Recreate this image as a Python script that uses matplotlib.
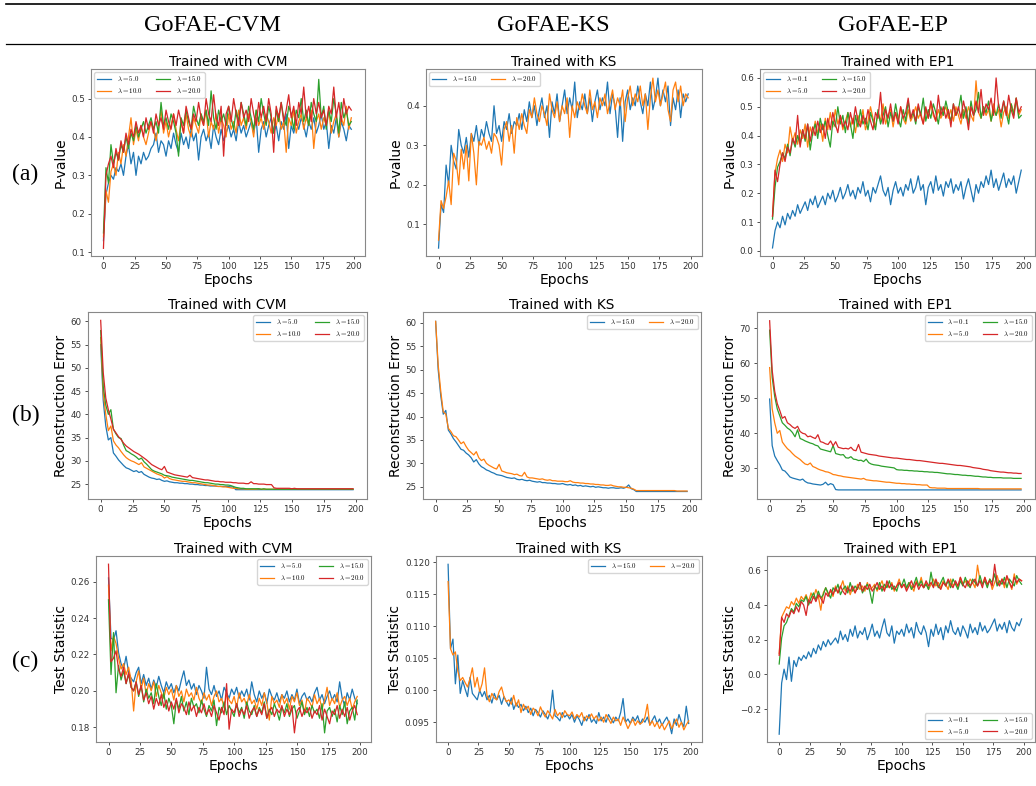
import numpy as np
import matplotlib
matplotlib.use('Agg')
import matplotlib.pyplot as plt
from matplotlib.lines import Line2D

W, H = 1036, 786
plt.rcParams['mathtext.fontset'] = 'cm'

BLUE, ORANGE, GREEN, RED = '#1f77b4', '#ff7f0e', '#2ca02c', '#d62728'

# every series is sampled every 2 epochs (0, 2, ..., 198)

# ---- row (a): P-value ----
cvm_pval_5 = [
    0.13, 0.25, 0.28, 0.30, 0.29, 0.32, 0.31, 0.33, 0.30, 0.35,
    0.38, 0.33, 0.36, 0.30, 0.35, 0.33, 0.36, 0.34, 0.35, 0.37,
    0.38, 0.41, 0.36, 0.39, 0.38, 0.35, 0.39, 0.37, 0.41, 0.38,
    0.36, 0.41, 0.38, 0.40, 0.37, 0.42, 0.39, 0.41, 0.34, 0.40,
    0.42, 0.39, 0.41, 0.37, 0.43, 0.40, 0.38, 0.42, 0.39, 0.41,
    0.43, 0.40, 0.42, 0.39, 0.44, 0.41, 0.43, 0.40, 0.42, 0.44,
    0.41, 0.45, 0.36, 0.42, 0.44, 0.40, 0.43, 0.45, 0.41, 0.43,
    0.39, 0.44, 0.42, 0.46, 0.37, 0.43, 0.41, 0.44, 0.42, 0.45,
    0.43, 0.40, 0.44, 0.42, 0.45, 0.41, 0.43, 0.46, 0.42, 0.44,
    0.37, 0.43, 0.41, 0.45, 0.40, 0.44, 0.42, 0.39, 0.43, 0.42]
cvm_pval_10 = [
    0.14, 0.26, 0.23, 0.31, 0.33, 0.30, 0.36, 0.33, 0.38, 0.35,
    0.40, 0.45, 0.38, 0.42, 0.39, 0.43, 0.40, 0.38, 0.41, 0.44,
    0.42, 0.39, 0.43, 0.47, 0.41, 0.44, 0.40, 0.43, 0.46, 0.42,
    0.39, 0.44, 0.41, 0.46, 0.42, 0.40, 0.45, 0.43, 0.41, 0.46,
    0.43, 0.47, 0.40, 0.44, 0.42, 0.46, 0.41, 0.45, 0.43, 0.40,
    0.46, 0.42, 0.44, 0.41, 0.47, 0.43, 0.45, 0.42, 0.46, 0.44,
    0.40, 0.47, 0.43, 0.45, 0.42, 0.46, 0.44, 0.41, 0.45, 0.43,
    0.46, 0.42, 0.44, 0.36, 0.45, 0.43, 0.47, 0.41, 0.44, 0.46,
    0.42, 0.45, 0.43, 0.47, 0.37, 0.44, 0.46, 0.42, 0.45, 0.43,
    0.47, 0.41, 0.44, 0.46, 0.40, 0.45, 0.43, 0.48, 0.42, 0.45]
cvm_pval_15 = [
    0.15, 0.32, 0.28, 0.38, 0.33, 0.36, 0.34, 0.38, 0.36, 0.40,
    0.37, 0.41, 0.39, 0.43, 0.40, 0.42, 0.44, 0.41, 0.43, 0.45,
    0.42, 0.44, 0.41, 0.49, 0.43, 0.45, 0.42, 0.46, 0.44, 0.41,
    0.35, 0.45, 0.43, 0.47, 0.44, 0.42, 0.48, 0.45, 0.43, 0.46,
    0.44, 0.47, 0.43, 0.52, 0.45, 0.42, 0.47, 0.44, 0.46, 0.43,
    0.48, 0.45, 0.42, 0.47, 0.44, 0.49, 0.46, 0.43, 0.48, 0.45,
    0.42, 0.47, 0.44, 0.50, 0.46, 0.43, 0.48, 0.45, 0.41, 0.47,
    0.44, 0.49, 0.45, 0.43, 0.48, 0.46, 0.42, 0.47, 0.45, 0.50,
    0.44, 0.47, 0.43, 0.49, 0.46, 0.44, 0.55, 0.45, 0.48, 0.42,
    0.47, 0.44, 0.50, 0.46, 0.41, 0.49, 0.45, 0.47, 0.43, 0.44]
cvm_pval_20 = [
    0.11, 0.30, 0.33, 0.35, 0.32, 0.37, 0.34, 0.39, 0.36, 0.41,
    0.38, 0.42, 0.40, 0.44, 0.41, 0.43, 0.40, 0.45, 0.42, 0.44,
    0.41, 0.46, 0.43, 0.45, 0.42, 0.47, 0.44, 0.42, 0.46, 0.43,
    0.47, 0.44, 0.41, 0.48, 0.45, 0.42, 0.46, 0.44, 0.49, 0.45,
    0.43, 0.50, 0.46, 0.44, 0.51, 0.45, 0.43, 0.48, 0.35, 0.46,
    0.48, 0.44, 0.50, 0.46, 0.43, 0.49, 0.45, 0.47, 0.44, 0.50,
    0.46, 0.43, 0.49, 0.45, 0.48, 0.44, 0.50, 0.46, 0.36, 0.48,
    0.45, 0.49, 0.44, 0.47, 0.51, 0.45, 0.48, 0.43, 0.49, 0.46,
    0.53, 0.45, 0.48, 0.44, 0.50, 0.46, 0.49, 0.45, 0.47, 0.43,
    0.48, 0.46, 0.53, 0.45, 0.49, 0.44, 0.50, 0.46, 0.48, 0.47]

ks_pval_15 = [
    0.04, 0.15, 0.13, 0.25, 0.20, 0.30, 0.26, 0.24, 0.34, 0.30,
    0.28, 0.32, 0.27, 0.33, 0.31, 0.35, 0.30, 0.34, 0.32, 0.36,
    0.33, 0.31, 0.40, 0.33, 0.35, 0.31, 0.36, 0.34, 0.38, 0.33,
    0.36, 0.35, 0.38, 0.34, 0.39, 0.36, 0.41, 0.37, 0.40, 0.35,
    0.39, 0.42, 0.37, 0.40, 0.32, 0.41, 0.38, 0.43, 0.36, 0.40,
    0.44, 0.38, 0.42, 0.39, 0.46, 0.37, 0.41, 0.39, 0.43, 0.38,
    0.42, 0.36, 0.41, 0.44, 0.39, 0.42, 0.40, 0.46, 0.38, 0.43,
    0.40, 0.32, 0.42, 0.31, 0.41, 0.44, 0.39, 0.42, 0.40, 0.45,
    0.41, 0.38, 0.43, 0.40, 0.46, 0.39, 0.42, 0.47, 0.40, 0.44,
    0.41, 0.45, 0.35, 0.42, 0.39, 0.44, 0.37, 0.43, 0.41, 0.43]
ks_pval_20 = [
    0.06, 0.16, 0.14, 0.17, 0.21, 0.15, 0.28, 0.26, 0.20, 0.29,
    0.24, 0.30, 0.21, 0.33, 0.28, 0.20, 0.31, 0.30, 0.32, 0.29,
    0.31, 0.28, 0.33, 0.32, 0.30, 0.25, 0.34, 0.36, 0.31, 0.35,
    0.28, 0.37, 0.34, 0.38, 0.35, 0.33, 0.39, 0.37, 0.42, 0.38,
    0.36, 0.40, 0.38, 0.35, 0.43, 0.39, 0.37, 0.41, 0.36, 0.40,
    0.38, 0.42, 0.32, 0.40, 0.37, 0.41, 0.39, 0.43, 0.40, 0.38,
    0.44, 0.39, 0.41, 0.37, 0.42, 0.40, 0.43, 0.38, 0.41, 0.44,
    0.39, 0.42, 0.40, 0.44, 0.36, 0.42, 0.45, 0.40, 0.43, 0.41,
    0.45, 0.40, 0.43, 0.34, 0.42, 0.47, 0.41, 0.44, 0.40, 0.43,
    0.46, 0.39, 0.36, 0.44, 0.46, 0.41, 0.45, 0.40, 0.43, 0.42]

ep_pval_01 = [
    0.01, 0.07, 0.10, 0.08, 0.12, 0.09, 0.13, 0.11, 0.14, 0.12,
    0.16, 0.13, 0.15, 0.17, 0.14, 0.18, 0.16, 0.19, 0.15, 0.17,
    0.19, 0.16, 0.20, 0.18, 0.21, 0.17, 0.19, 0.22, 0.18, 0.20,
    0.23, 0.19, 0.21, 0.18, 0.22, 0.20, 0.24, 0.19, 0.21, 0.17,
    0.22, 0.20, 0.23, 0.26, 0.21, 0.19, 0.22, 0.16, 0.21, 0.24,
    0.20, 0.22, 0.19, 0.23, 0.21, 0.25, 0.20, 0.22, 0.26, 0.21,
    0.23, 0.16, 0.22, 0.24, 0.20, 0.26, 0.21, 0.23, 0.19, 0.24,
    0.22, 0.25, 0.20, 0.23, 0.21, 0.24, 0.18, 0.22, 0.25, 0.21,
    0.17, 0.23, 0.20, 0.24, 0.22, 0.26, 0.23, 0.28, 0.22, 0.25,
    0.21, 0.24, 0.27, 0.22, 0.25, 0.23, 0.26, 0.20, 0.24, 0.28]
ep_pval_5 = [
    0.12, 0.27, 0.32, 0.35, 0.31, 0.37, 0.34, 0.43, 0.38, 0.41,
    0.37, 0.42, 0.39, 0.44, 0.36, 0.43, 0.40, 0.45, 0.41, 0.44,
    0.38, 0.46, 0.42, 0.48, 0.43, 0.49, 0.44, 0.47, 0.42, 0.45,
    0.48, 0.43, 0.46, 0.41, 0.47, 0.44, 0.49, 0.42, 0.45, 0.50,
    0.46, 0.43, 0.48, 0.45, 0.51, 0.44, 0.47, 0.49, 0.43, 0.48,
    0.45, 0.50, 0.46, 0.44, 0.49, 0.45, 0.47, 0.50, 0.46, 0.48,
    0.44, 0.49, 0.46, 0.51, 0.47, 0.45, 0.49, 0.46, 0.48, 0.50,
    0.46, 0.49, 0.45, 0.50, 0.47, 0.44, 0.49, 0.46, 0.50, 0.47,
    0.45, 0.59, 0.48, 0.46, 0.50, 0.47, 0.49, 0.45, 0.51, 0.47,
    0.49, 0.43, 0.48, 0.50, 0.46, 0.51, 0.48, 0.53, 0.47, 0.49]
ep_pval_15 = [
    0.11, 0.22, 0.29, 0.31, 0.34, 0.32, 0.37, 0.33, 0.39, 0.36,
    0.40, 0.37, 0.42, 0.38, 0.44, 0.35, 0.41, 0.44, 0.39, 0.46,
    0.42, 0.45, 0.40, 0.36, 0.45, 0.43, 0.50, 0.44, 0.47, 0.41,
    0.48, 0.44, 0.39, 0.47, 0.43, 0.49, 0.44, 0.46, 0.42, 0.48,
    0.45, 0.42, 0.49, 0.44, 0.47, 0.50, 0.43, 0.48, 0.45, 0.51,
    0.46, 0.43, 0.49, 0.45, 0.52, 0.46, 0.48, 0.44, 0.50, 0.47,
    0.53, 0.45, 0.49, 0.46, 0.51, 0.48, 0.44, 0.50, 0.47, 0.52,
    0.48, 0.45, 0.51, 0.47, 0.49, 0.54, 0.46, 0.50, 0.44, 0.52,
    0.47, 0.49, 0.55, 0.46, 0.50, 0.48, 0.52, 0.45, 0.49, 0.47,
    0.51, 0.46, 0.52, 0.48, 0.44, 0.51, 0.47, 0.53, 0.46, 0.47]
ep_pval_20 = [
    0.12, 0.28, 0.24, 0.30, 0.34, 0.31, 0.36, 0.34, 0.39, 0.37,
    0.47, 0.36, 0.42, 0.39, 0.44, 0.38, 0.43, 0.40, 0.45, 0.41,
    0.44, 0.39, 0.46, 0.42, 0.48, 0.44, 0.41, 0.47, 0.43, 0.45,
    0.42, 0.48, 0.44, 0.50, 0.45, 0.43, 0.47, 0.44, 0.49, 0.45,
    0.42, 0.48, 0.46, 0.55, 0.44, 0.49, 0.46, 0.51, 0.45, 0.48,
    0.44, 0.50, 0.46, 0.48, 0.53, 0.46, 0.49, 0.45, 0.51, 0.47,
    0.44, 0.50, 0.46, 0.52, 0.48, 0.45, 0.54, 0.47, 0.50, 0.46,
    0.49, 0.43, 0.51, 0.47, 0.50, 0.46, 0.52, 0.48, 0.42, 0.50,
    0.47, 0.52, 0.48, 0.56, 0.47, 0.51, 0.49, 0.53, 0.47, 0.60,
    0.50, 0.48, 0.52, 0.47, 0.54, 0.49, 0.46, 0.53, 0.48, 0.50]

# ---- row (b): reconstruction error ----
cvm_rec_5 = [
    55.0, 43.0, 37.5, 34.5, 35.0, 31.7, 31.0, 30.2, 29.6, 29.0,
    28.5, 28.3, 28.0, 27.7, 27.9, 27.5, 27.7, 27.1, 26.8, 26.5,
    26.3, 26.2, 26.0, 26.1, 25.8, 25.6, 25.7, 25.5, 25.4, 25.3,
    25.3, 25.2, 25.2, 25.1, 25.1, 25.0, 25.0, 24.9, 24.9, 24.8,
    24.8, 24.7, 24.7, 24.6, 24.6, 24.6, 24.5, 24.5, 24.5, 24.5,
    24.5, 24.4, 24.4, 23.8, 23.8, 23.8, 23.8, 23.8, 23.8, 23.8,
    23.8, 23.8, 23.8, 23.8, 23.8, 23.8, 23.8, 23.8, 23.8, 23.8,
    23.8, 23.8, 23.8, 23.8, 23.8, 23.8, 23.8, 23.8, 23.8, 23.8,
    23.8, 23.8, 23.8, 23.8, 23.8, 23.8, 23.8, 23.8, 23.8, 23.8,
    23.8, 23.8, 23.8, 23.8, 23.8, 23.8, 23.8, 23.8, 23.8, 23.8]
cvm_rec_10 = [
    56.5, 44.5, 40.0, 36.5, 37.5, 34.3, 33.4, 32.8, 32.0, 31.3,
    30.7, 30.3, 30.0, 29.8, 29.5, 29.2, 29.6, 28.7, 28.4, 28.1,
    27.8, 27.5, 27.2, 27.0, 26.8, 26.3, 26.6, 26.2, 26.0, 25.9,
    25.8, 25.7, 25.6, 25.6, 25.5, 25.4, 25.3, 25.3, 25.2, 25.1,
    25.0, 24.9, 24.8, 24.8, 24.7, 24.6, 24.5, 24.5, 24.4, 24.4,
    24.3, 24.2, 24.1, 24.1, 24.0, 24.0, 24.0, 23.9, 23.9, 23.9,
    23.9, 23.9, 24.0, 23.9, 23.9, 23.9, 23.9, 23.9, 23.9, 23.9,
    23.9, 23.9, 23.9, 23.9, 23.9, 23.9, 23.9, 23.9, 23.9, 23.9,
    23.9, 23.9, 23.9, 23.9, 23.9, 23.9, 23.9, 23.9, 23.9, 23.9,
    23.9, 23.9, 23.9, 23.9, 23.9, 23.9, 23.9, 23.9, 23.9, 23.9]
cvm_rec_15 = [
    58.0, 46.0, 42.0, 40.0, 41.0, 36.8, 35.8, 35.0, 34.8, 33.4,
    32.2, 31.9, 31.5, 31.2, 30.8, 30.3, 30.6, 29.8, 29.3, 28.7,
    28.1, 27.8, 27.6, 27.4, 27.2, 26.9, 26.8, 26.7, 26.5, 26.4,
    26.3, 26.2, 26.1, 26.0, 25.9, 25.8, 25.8, 25.7, 25.6, 25.5,
    25.4, 25.3, 25.3, 25.2, 25.1, 25.0, 25.0, 24.9, 24.9, 24.8,
    24.8, 24.7, 24.5, 24.3, 24.2, 24.1, 24.1, 24.0, 24.0, 24.0,
    24.0, 24.0, 24.0, 23.9, 24.0, 23.9, 23.9, 23.9, 23.9, 23.9,
    23.9, 23.9, 23.9, 23.9, 23.9, 23.9, 23.9, 23.9, 23.9, 23.9,
    23.9, 23.9, 23.9, 23.9, 23.9, 23.9, 23.9, 23.9, 23.9, 23.9,
    23.9, 23.9, 23.9, 23.9, 23.9, 23.9, 23.9, 23.9, 23.9, 23.9]
cvm_rec_20 = [
    60.2, 49.0, 43.5, 41.0, 39.0, 36.8, 36.0, 35.2, 34.6, 33.8,
    33.2, 32.8, 32.4, 32.0, 31.7, 31.4, 31.0, 30.6, 30.2, 29.7,
    29.2, 28.9, 28.6, 28.3, 28.1, 28.8, 27.6, 27.4, 27.2, 27.0,
    26.9, 26.8, 26.7, 26.6, 26.5, 26.9, 26.4, 26.3, 26.2, 26.1,
    26.0, 25.9, 25.9, 25.8, 25.7, 25.6, 25.6, 25.5, 25.5, 25.4,
    25.4, 25.4, 25.3, 25.3, 25.2, 25.2, 25.2, 25.1, 25.1, 25.5,
    25.1, 25.1, 25.0, 25.0, 25.0, 24.9, 24.9, 24.9, 24.2, 24.1,
    24.1, 24.1, 24.1, 24.1, 24.1, 24.0, 24.1, 24.0, 24.0, 24.0,
    24.0, 24.0, 24.0, 24.0, 24.0, 24.0, 24.0, 24.0, 24.0, 24.0,
    24.0, 24.0, 24.0, 24.0, 24.0, 24.0, 24.0, 24.0, 24.0, 24.0]

ks_rec_15 = [
    60.3, 50.0, 44.5, 40.5, 41.3, 37.1, 36.3, 35.3, 34.6, 33.8,
    33.0, 32.8, 32.2, 31.8, 31.2, 30.3, 30.8, 29.9, 29.3, 29.0,
    28.6, 28.4, 28.1, 27.9, 27.6, 27.5, 27.4, 27.2, 27.0, 26.9,
    26.8, 26.9, 26.6, 26.5, 26.6, 26.4, 26.3, 26.4, 26.2, 26.1,
    26.0, 26.1, 25.9, 25.9, 25.8, 25.8, 25.7, 25.7, 25.6, 25.6,
    25.7, 25.5, 25.4, 25.5, 25.3, 25.4, 25.2, 25.3, 25.1, 25.2,
    25.1, 25.0, 25.1, 24.9, 25.0, 24.9, 24.8, 24.8, 24.7, 24.8,
    24.8, 24.7, 24.7, 24.8, 24.7, 24.9, 25.4, 24.6, 24.4, 24.0,
    24.0, 24.0, 24.0, 24.0, 24.0, 24.0, 24.0, 24.0, 24.0, 24.0,
    24.0, 24.0, 24.0, 24.0, 24.0, 24.0, 24.0, 24.0, 24.0, 24.0]
ks_rec_20 = [
    60.3, 51.0, 45.5, 41.0, 40.5, 37.5, 36.8, 35.9, 35.7, 35.0,
    34.2, 34.6, 33.6, 32.8, 32.3, 31.8, 32.5, 31.2, 30.6, 30.9,
    30.0, 29.6, 29.3, 29.0, 28.8, 29.8, 28.4, 28.2, 28.0, 27.9,
    27.8, 27.6, 27.7, 27.4, 27.3, 28.1, 27.1, 26.9, 26.9, 26.8,
    26.7, 26.6, 26.7, 26.5, 26.4, 26.5, 26.3, 26.3, 26.2, 26.2,
    26.2, 26.1, 26.1, 26.3, 26.0, 25.9, 25.9, 25.8, 25.8, 25.7,
    25.7, 25.6, 25.6, 25.5, 25.5, 25.4, 25.4, 25.3, 25.3, 25.4,
    25.2, 25.1, 25.0, 25.0, 24.9, 24.9, 24.8, 24.7, 24.5, 24.2,
    24.2, 24.2, 24.2, 24.2, 24.2, 24.2, 24.2, 24.2, 24.2, 24.2,
    24.2, 24.2, 24.2, 24.2, 24.2, 24.1, 24.1, 24.1, 24.1, 24.1]

ep_rec_01 = [
    49.8, 36.5, 33.5, 32.2, 31.0, 29.5, 29.2, 28.4, 27.5, 27.2,
    27.0, 26.8, 26.6, 26.9, 26.2, 25.8, 25.7, 25.5, 25.4, 25.3,
    25.2, 25.4, 26.0, 25.2, 25.6, 25.3, 23.9, 23.8, 23.8, 23.8,
    23.8, 23.8, 23.8, 23.8, 23.8, 23.8, 23.8, 23.8, 23.8, 23.8,
    23.8, 23.8, 23.8, 23.8, 23.8, 23.8, 23.8, 23.8, 23.8, 23.8,
    23.8, 23.8, 23.8, 23.8, 23.8, 23.8, 23.8, 23.8, 23.8, 23.8,
    23.8, 23.8, 23.8, 23.8, 23.8, 23.8, 23.8, 23.8, 23.8, 23.8,
    23.8, 23.8, 23.8, 23.8, 23.8, 23.8, 23.8, 23.8, 23.8, 23.8,
    23.8, 23.8, 23.8, 23.8, 23.8, 23.8, 23.8, 23.8, 23.8, 23.8,
    23.8, 23.8, 23.8, 23.8, 23.8, 23.8, 23.8, 23.8, 23.8, 23.8]
ep_rec_5 = [
    58.8, 47.0, 43.0, 40.0, 40.8, 37.5, 36.5, 35.6, 35.0, 34.2,
    33.5, 33.0, 32.5, 31.8, 31.2, 31.0, 31.5, 30.5, 30.2, 29.8,
    29.5, 29.3, 29.0, 28.9, 28.6, 28.2, 28.1, 27.9, 27.8, 27.6,
    27.5, 27.4, 27.3, 27.2, 27.1, 27.0, 26.9, 27.1, 26.7, 26.6,
    26.5, 26.4, 26.4, 26.3, 26.2, 26.1, 26.0, 26.0, 25.9, 25.8,
    25.7, 25.7, 25.6, 25.6, 25.5, 25.5, 25.4, 25.4, 25.3, 25.3,
    25.2, 25.2, 25.2, 24.5, 24.4, 24.4, 24.3, 24.3, 24.3, 24.3,
    24.2, 24.2, 24.2, 24.2, 24.2, 24.2, 24.2, 24.2, 24.2, 24.2,
    24.2, 24.2, 24.2, 24.1, 24.1, 24.1, 24.1, 24.1, 24.1, 24.1,
    24.1, 24.1, 24.1, 24.1, 24.1, 24.1, 24.1, 24.1, 24.1, 24.1]
ep_rec_15 = [
    69.5, 56.0, 50.5, 47.0, 45.0, 43.0, 42.3, 41.5, 41.0, 40.2,
    39.0, 41.0, 38.5, 38.2, 37.8, 37.5, 37.2, 37.0, 36.6, 36.4,
    35.5, 35.3, 35.1, 34.9, 34.7, 36.5, 34.2, 34.0, 33.8, 33.9,
    33.0, 32.9, 33.3, 32.6, 32.5, 32.2, 32.3, 31.9, 32.6, 31.6,
    31.2, 31.0, 30.9, 30.8, 30.6, 30.5, 30.4, 30.3, 30.2, 30.1,
    29.6, 29.5, 29.5, 29.4, 29.4, 29.3, 29.3, 29.2, 29.2, 29.1,
    29.1, 29.0, 29.0, 28.9, 28.9, 28.8, 28.8, 28.7, 28.6, 28.5,
    28.4, 28.4, 28.3, 28.2, 28.2, 28.1, 28.0, 28.0, 27.9, 27.9,
    27.8, 27.7, 27.7, 27.6, 27.5, 27.5, 27.4, 27.4, 27.3, 27.3,
    27.3, 27.3, 27.2, 27.2, 27.2, 27.2, 27.1, 27.1, 27.1, 27.1]
ep_rec_20 = [
    72.2, 58.0, 52.0, 48.5, 46.5, 44.3, 44.8, 43.0, 42.5, 41.8,
    41.4, 42.0, 40.5, 40.0, 39.8, 39.0, 39.2, 38.8, 38.5, 39.6,
    37.6, 37.4, 37.0, 36.8, 37.8, 36.4, 37.6, 36.0, 35.8, 35.6,
    35.7, 35.5, 36.0, 35.2, 35.0, 36.8, 34.6, 34.4, 34.2, 34.0,
    33.9, 33.8, 33.7, 33.5, 33.4, 33.3, 33.2, 33.1, 33.0, 32.9,
    32.9, 32.8, 32.7, 32.6, 32.5, 32.5, 32.4, 32.3, 32.2, 32.2,
    32.1, 32.0, 31.9, 31.8, 31.7, 31.6, 31.5, 31.4, 31.4, 31.3,
    31.2, 31.1, 31.0, 30.9, 30.8, 30.8, 30.7, 30.6, 30.5, 30.4,
    30.2, 30.1, 30.0, 29.9, 29.7, 29.6, 29.5, 29.3, 29.2, 29.1,
    29.0, 28.9, 28.9, 28.8, 28.7, 28.7, 28.6, 28.6, 28.5, 28.5]

# ---- row (c): test statistic ----
cvm_stat_5 = [
    0.262, 0.229, 0.228, 0.233, 0.221, 0.215, 0.212, 0.219, 0.210, 0.207,
    0.205, 0.210, 0.213, 0.204, 0.209, 0.203, 0.207, 0.201, 0.206, 0.202,
    0.208, 0.203, 0.199, 0.205, 0.201, 0.204, 0.199, 0.203, 0.200, 0.206,
    0.211, 0.203, 0.206, 0.201, 0.204, 0.198, 0.203, 0.200, 0.196, 0.213,
    0.201, 0.198, 0.203, 0.197, 0.200, 0.195, 0.202, 0.199, 0.196, 0.201,
    0.198, 0.202, 0.196, 0.200, 0.197, 0.201, 0.195, 0.205, 0.198, 0.194,
    0.200, 0.196, 0.199, 0.193, 0.201, 0.197, 0.195, 0.199, 0.194, 0.198,
    0.196, 0.200, 0.194, 0.198, 0.195, 0.201, 0.193, 0.197, 0.199, 0.195,
    0.197, 0.194, 0.199, 0.202, 0.195, 0.198, 0.193, 0.197, 0.200, 0.195,
    0.198, 0.194, 0.205, 0.196, 0.192, 0.199, 0.195, 0.201, 0.196, 0.193]
cvm_stat_10 = [
    0.258, 0.222, 0.230, 0.226, 0.218, 0.212, 0.215, 0.209, 0.213, 0.206,
    0.189, 0.205, 0.211, 0.201, 0.207, 0.198, 0.204, 0.200, 0.205, 0.197,
    0.203, 0.199, 0.196, 0.202, 0.198, 0.201, 0.195, 0.203, 0.197, 0.200,
    0.194, 0.201, 0.197, 0.199, 0.195, 0.202, 0.196, 0.193, 0.199, 0.195,
    0.198, 0.192, 0.197, 0.200, 0.194, 0.196, 0.191, 0.198, 0.195, 0.193,
    0.197, 0.191, 0.199, 0.194, 0.196, 0.192, 0.198, 0.193, 0.195, 0.190,
    0.196, 0.192, 0.199, 0.194, 0.184, 0.197, 0.193, 0.195, 0.191, 0.198,
    0.193, 0.196, 0.190, 0.197, 0.194, 0.199, 0.192, 0.195, 0.188, 0.196,
    0.194, 0.191, 0.198, 0.193, 0.196, 0.190, 0.195, 0.202, 0.192, 0.196,
    0.193, 0.199, 0.191, 0.195, 0.197, 0.192, 0.196, 0.190, 0.194, 0.197]
cvm_stat_15 = [
    0.250, 0.209, 0.232, 0.199, 0.214, 0.206, 0.211, 0.204, 0.209, 0.202,
    0.200, 0.205, 0.197, 0.203, 0.194, 0.201, 0.196, 0.199, 0.193, 0.204,
    0.197, 0.192, 0.199, 0.190, 0.196, 0.192, 0.182, 0.195, 0.190, 0.197,
    0.189, 0.194, 0.187, 0.196, 0.191, 0.193, 0.188, 0.195, 0.190, 0.186,
    0.192, 0.189, 0.195, 0.181, 0.191, 0.188, 0.194, 0.187, 0.192, 0.189,
    0.186, 0.193, 0.188, 0.191, 0.185, 0.194, 0.189, 0.187, 0.192, 0.186,
    0.191, 0.188, 0.194, 0.185, 0.190, 0.187, 0.193, 0.189, 0.184, 0.191,
    0.188, 0.193, 0.186, 0.190, 0.192, 0.185, 0.189, 0.194, 0.187, 0.191,
    0.186, 0.192, 0.188, 0.190, 0.185, 0.193, 0.177, 0.189, 0.191, 0.186,
    0.190, 0.183, 0.192, 0.187, 0.194, 0.182, 0.189, 0.191, 0.184, 0.195]
cvm_stat_20 = [
    0.2695, 0.216, 0.218, 0.222, 0.212, 0.208, 0.213, 0.204, 0.210, 0.202,
    0.200, 0.205, 0.198, 0.203, 0.195, 0.199, 0.193, 0.197, 0.190, 0.196,
    0.192, 0.198, 0.191, 0.195, 0.189, 0.194, 0.190, 0.196, 0.188, 0.193,
    0.191, 0.187, 0.194, 0.189, 0.192, 0.186, 0.191, 0.188, 0.193, 0.187,
    0.190, 0.186, 0.192, 0.188, 0.184, 0.191, 0.187, 0.204, 0.179, 0.190,
    0.188, 0.193, 0.186, 0.190, 0.187, 0.192, 0.185, 0.189, 0.191, 0.186,
    0.190, 0.187, 0.193, 0.185, 0.189, 0.191, 0.186, 0.190, 0.188, 0.192,
    0.186, 0.190, 0.187, 0.192, 0.177, 0.189, 0.191, 0.186, 0.190, 0.188,
    0.191, 0.185, 0.189, 0.187, 0.192, 0.184, 0.190, 0.186, 0.182, 0.189,
    0.187, 0.192, 0.185, 0.190, 0.186, 0.191, 0.184, 0.189, 0.192, 0.187]

ks_stat_15 = [
    0.1197, 0.1065, 0.1080, 0.1010, 0.1055, 0.0995, 0.1015, 0.1002, 0.0990, 0.1020,
    0.0995, 0.0990, 0.0985, 0.1000, 0.0990, 0.0998, 0.0985, 0.0992, 0.0980, 0.0995,
    0.0985, 0.0992, 0.0978, 0.0990, 0.0982, 0.0975, 0.0988, 0.0970, 0.0980, 0.0973,
    0.0978, 0.0968, 0.0975, 0.0965, 0.0972, 0.0960, 0.0970, 0.0965, 0.0958, 0.0968,
    0.0962, 0.0955, 0.0966, 0.1000, 0.0960, 0.0957, 0.0952, 0.0965, 0.0958, 0.0962,
    0.0955, 0.0962, 0.0950, 0.0960, 0.0954, 0.0945, 0.0958, 0.0952, 0.0962, 0.0950,
    0.0955, 0.0948, 0.0965, 0.0952, 0.0958, 0.0950, 0.0962, 0.0955, 0.0949, 0.0958,
    0.0952, 0.0965, 0.0987, 0.0950, 0.0955, 0.0948, 0.0958, 0.0952, 0.0960, 0.0947,
    0.0955, 0.0950, 0.0958, 0.0946, 0.0953, 0.0960, 0.0948, 0.0955, 0.0945, 0.0952,
    0.0958, 0.0948, 0.0932, 0.0955, 0.0945, 0.0962, 0.0950, 0.0943, 0.0975, 0.0948]
ks_stat_20 = [
    0.1170, 0.1065, 0.1055, 0.1060, 0.1030, 0.1015, 0.1020, 0.1012, 0.1005, 0.1018,
    0.1035, 0.1005, 0.1020, 0.0998, 0.1010, 0.1035, 0.0992, 0.0982, 0.0995, 0.0988,
    0.0985, 0.0998, 0.1005, 0.0990, 0.0982, 0.0985, 0.0978, 0.0992, 0.0975, 0.0985,
    0.0965, 0.0978, 0.0970, 0.0975, 0.0962, 0.0972, 0.0968, 0.0960, 0.0974, 0.0965,
    0.0958, 0.0968, 0.0962, 0.0955, 0.0970, 0.0960, 0.0965, 0.0957, 0.0968, 0.0962,
    0.0960, 0.0966, 0.0955, 0.0962, 0.0958, 0.0965, 0.0952, 0.0960, 0.0956, 0.0963,
    0.0955, 0.0960, 0.0952, 0.0958, 0.0950, 0.0962, 0.0955, 0.0948, 0.0958, 0.0952,
    0.0955, 0.0945, 0.0958, 0.0950, 0.0940, 0.0948, 0.0955, 0.0945, 0.0952, 0.0947,
    0.0950, 0.0958, 0.0978, 0.0945, 0.0952, 0.0943, 0.0950, 0.0940, 0.0948, 0.0938,
    0.0945, 0.0952, 0.0940, 0.0948, 0.0955, 0.0942, 0.0950, 0.0938, 0.0946, 0.0952]

ep_stat_01 = [
    -0.345, -0.050, 0.030, -0.030, 0.100, -0.040, 0.080, 0.045, 0.100, 0.080,
    0.110, 0.090, 0.130, 0.100, 0.150, 0.120, 0.170, 0.140, 0.190, 0.160,
    0.200, 0.170, 0.190, 0.210, 0.180, 0.250, 0.200, 0.230, 0.190, 0.260,
    0.220, 0.280, 0.210, 0.250, 0.230, 0.270, 0.200, 0.240, 0.290, 0.220,
    0.250, 0.210, 0.270, 0.320, 0.240, 0.220, 0.280, 0.180, 0.250, 0.230,
    0.260, 0.220, 0.290, 0.240, 0.270, 0.210, 0.300, 0.250, 0.230, 0.280,
    0.240, 0.160, 0.260, 0.220, 0.290, 0.230, 0.270, 0.200, 0.280, 0.240,
    0.310, 0.250, 0.230, 0.270, 0.220, 0.280, 0.250, 0.210, 0.290, 0.240,
    0.270, 0.230, 0.300, 0.250, 0.280, 0.240, 0.260, 0.290, 0.320, 0.250,
    0.290, 0.260, 0.300, 0.240, 0.310, 0.270, 0.250, 0.300, 0.280, 0.320]
ep_stat_5 = [
    0.120, 0.330, 0.360, 0.390, 0.380, 0.420, 0.400, 0.440, 0.410, 0.450,
    0.430, 0.460, 0.420, 0.470, 0.440, 0.490, 0.450, 0.370, 0.470, 0.500,
    0.460, 0.480, 0.450, 0.510, 0.470, 0.500, 0.540, 0.480, 0.510, 0.460,
    0.500, 0.470, 0.520, 0.490, 0.510, 0.480, 0.530, 0.490, 0.500, 0.520,
    0.480, 0.510, 0.540, 0.490, 0.520, 0.500, 0.530, 0.480, 0.510, 0.550,
    0.500, 0.520, 0.490, 0.530, 0.510, 0.480, 0.540, 0.510, 0.560, 0.500,
    0.530, 0.490, 0.520, 0.550, 0.510, 0.530, 0.500, 0.540, 0.520, 0.490,
    0.550, 0.510, 0.530, 0.500, 0.560, 0.520, 0.540, 0.510, 0.550, 0.530,
    0.500, 0.630, 0.540, 0.520, 0.560, 0.510, 0.550, 0.490, 0.530, 0.570,
    0.520, 0.550, 0.500, 0.560, 0.530, 0.490, 0.580, 0.520, 0.550, 0.540]
ep_stat_15 = [
    0.060, 0.210, 0.280, 0.300, 0.340, 0.380, 0.360, 0.410, 0.390, 0.430,
    0.420, 0.450, 0.400, 0.440, 0.470, 0.430, 0.480, 0.440, 0.460, 0.500,
    0.470, 0.440, 0.500, 0.480, 0.520, 0.460, 0.490, 0.510, 0.470, 0.530,
    0.480, 0.510, 0.490, 0.530, 0.470, 0.500, 0.520, 0.480, 0.410, 0.510,
    0.490, 0.530, 0.480, 0.520, 0.500, 0.540, 0.490, 0.510, 0.480, 0.530,
    0.510, 0.550, 0.500, 0.530, 0.490, 0.520, 0.560, 0.510, 0.540, 0.500,
    0.520, 0.490, 0.590, 0.510, 0.540, 0.500, 0.530, 0.560, 0.510, 0.540,
    0.500, 0.550, 0.520, 0.490, 0.540, 0.510, 0.560, 0.520, 0.500, 0.550,
    0.530, 0.510, 0.570, 0.520, 0.540, 0.500, 0.550, 0.530, 0.580, 0.510,
    0.540, 0.520, 0.560, 0.500, 0.550, 0.530, 0.510, 0.570, 0.540, 0.520]
ep_stat_20 = [
    0.110, 0.330, 0.300, 0.350, 0.330, 0.370, 0.350, 0.390, 0.360, 0.420,
    0.400, 0.340, 0.430, 0.410, 0.450, 0.420, 0.460, 0.440, 0.410, 0.470,
    0.450, 0.490, 0.460, 0.500, 0.470, 0.510, 0.480, 0.460, 0.500, 0.480,
    0.510, 0.470, 0.500, 0.530, 0.480, 0.510, 0.490, 0.520, 0.480, 0.500,
    0.530, 0.490, 0.510, 0.480, 0.540, 0.500, 0.520, 0.490, 0.510, 0.530,
    0.500, 0.520, 0.480, 0.510, 0.540, 0.500, 0.530, 0.490, 0.520, 0.500,
    0.540, 0.510, 0.530, 0.500, 0.550, 0.510, 0.490, 0.530, 0.510, 0.550,
    0.520, 0.500, 0.540, 0.510, 0.560, 0.520, 0.500, 0.540, 0.510, 0.530,
    0.550, 0.510, 0.540, 0.500, 0.560, 0.520, 0.540, 0.510, 0.635, 0.530,
    0.510, 0.550, 0.520, 0.570, 0.530, 0.500, 0.560, 0.530, 0.550, 0.540]

col_titles = ['GoFAE-CVM', 'GoFAE-KS', 'GoFAE-EP']
row_tags = ['(a)', '(b)', '(c)']

lab_cvm = [r'$\lambda = 5.0$', r'$\lambda = 10.0$', r'$\lambda = 15.0$', r'$\lambda = 20.0$']
lab_ks = [r'$\lambda = 15.0$', r'$\lambda = 20.0$']
lab_ep = [r'$\lambda = 0.1$', r'$\lambda = 5.0$', r'$\lambda = 15.0$', r'$\lambda = 20.0$']
col4 = [BLUE, ORANGE, GREEN, RED]
col2 = [BLUE, ORANGE]


def rect(l, t, r, b):
    return [l / W, 1 - b / H, (r - l) / W, (b - t) / H]


fig = plt.figure(figsize=(W / 100, H / 100), dpi=100)


def panel(box, series, labels, colors, title, ylabel, ylim, yticks, loc):
    ax = fig.add_axes(rect(*box))
    for y, lab, c in zip(series, labels, colors):
        x = np.linspace(0, 198, len(y))
        ax.plot(x, y, color=c, lw=0.9, label=lab)
    ax.set_xlim(-9.95, 208.95)
    ax.set_ylim(*ylim)
    ax.set_xticks(range(0, 201, 25))
    ax.set_yticks(yticks)
    ax.set_title(title, fontsize=9.8, pad=2)
    ax.set_xlabel('Epochs', fontsize=10, labelpad=1)
    ax.set_ylabel(ylabel, fontsize=10, labelpad=2)
    ax.tick_params(labelsize=6.3, length=2.5, width=0.6, pad=2, colors='#333333')
    for s in ax.spines.values():
        s.set_color('#888888')
        s.set_linewidth(0.8)
    ax.legend(loc=loc, ncol=2, fontsize=5, handlelength=2, borderaxespad=0.5)
    return ax


# row (a)
panel((91, 69, 365, 256), [cvm_pval_5, cvm_pval_10, cvm_pval_15, cvm_pval_20],
      lab_cvm, col4, 'Trained with CVM', 'P-value', (0.090, 0.577),
      [0.1, 0.2, 0.3, 0.4, 0.5], 'upper left')
panel((426, 69, 702, 256), [ks_pval_15, ks_pval_20],
      lab_ks, col2, 'Trained with KS', 'P-value', (0.020, 0.493),
      [0.1, 0.2, 0.3, 0.4], 'upper left')
panel((760, 69, 1035, 256), [ep_pval_01, ep_pval_5, ep_pval_15, ep_pval_20],
      lab_ep, col4, 'Trained with EP1', 'P-value', (-0.018, 0.631),
      [0.0, 0.1, 0.2, 0.3, 0.4, 0.5, 0.6], 'upper left')

# row (b)
panel((88, 312, 367, 499), [cvm_rec_5, cvm_rec_10, cvm_rec_15, cvm_rec_20],
      lab_cvm, col4, 'Trained with CVM', 'Reconstruction Error', (21.8, 62.0),
      [25, 30, 35, 40, 45, 50, 55, 60], 'upper right')
panel((423, 312, 701, 499), [ks_rec_15, ks_rec_20],
      lab_ks, col2, 'Trained with KS', 'Reconstruction Error', (22.4, 62.3),
      [25, 30, 35, 40, 45, 50, 55, 60], 'upper right')
panel((757, 312, 1035, 499), [ep_rec_01, ep_rec_5, ep_rec_15, ep_rec_20],
      lab_ep, col4, 'Trained with EP1', 'Reconstruction Error', (21.2, 74.7),
      [30, 40, 50, 60, 70], 'upper right')

# row (c)
panel((96, 556, 371, 742), [cvm_stat_5, cvm_stat_10, cvm_stat_15, cvm_stat_20],
      lab_cvm, col4, 'Trained with CVM', 'Test Statistic', (0.172, 0.274),
      [0.18, 0.20, 0.22, 0.24, 0.26], 'upper right')
panel((436, 556, 702, 742), [ks_stat_15, ks_stat_20],
      lab_ks, col2, 'Trained with KS', 'Test Statistic', (0.0919, 0.1210),
      [0.095, 0.100, 0.105, 0.110, 0.115, 0.120], 'upper right')
panel((767, 556, 1035, 742), [ep_stat_01, ep_stat_5, ep_stat_15, ep_stat_20],
      lab_ep, col4, 'Trained with EP1', 'Test Statistic', (-0.39, 0.683),
      [-0.2, 0.0, 0.2, 0.4, 0.6], 'lower right')

# table-like header
for cx, name in zip([212, 553, 893], col_titles):
    fig.text(cx / W, 1 - 31 / H, name, family='Liberation Serif', fontsize=17.5,
             ha='center', va='baseline')
for yb, tag in zip([180, 421, 667], row_tags):
    fig.text(25.5 / W, 1 - yb / H, tag, family='Liberation Serif', fontsize=17,
             ha='center', va='baseline')
fig.add_artist(Line2D([6 / W, 1], [1 - 3.5 / H] * 2, color='black', lw=1.2))
fig.add_artist(Line2D([6 / W, 1], [1 - 43.5 / H] * 2, color='black', lw=0.9))

fig.savefig('out.png', dpi=100)
